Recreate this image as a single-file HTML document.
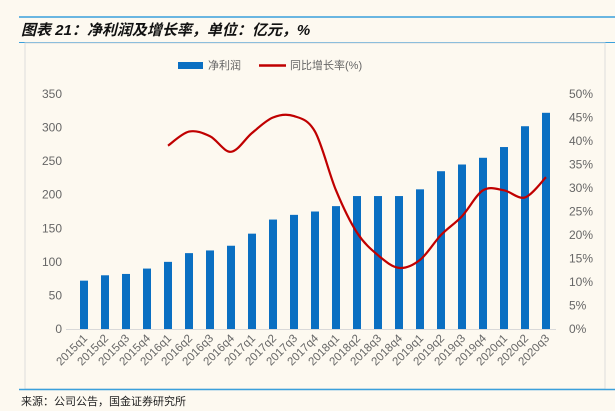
<!DOCTYPE html>
<html><head><meta charset="utf-8"><style>
body{margin:0;background:#fdf9f0;width:615px;height:411px;overflow:hidden;font-family:"Liberation Sans","Noto Sans CJK SC",sans-serif}
svg{display:block}
</style></head><body>
<svg width="615" height="411">
<line x1="19" y1="17" x2="615" y2="17" stroke="#3aa0dc" stroke-width="1.5"/>
<text x="21" y="35" font-size="15" font-weight="bold" font-style="italic" fill="#111">图表 21：净利润及增长率，单位：亿元，%</text>
<line x1="19" y1="42.5" x2="615" y2="42.5" stroke="#3aa0dc" stroke-width="1"/>
<rect x="25" y="43" width="580" height="346" fill="#fdf9f0" stroke="#ddd"/>
<line x1="19" y1="389.5" x2="615" y2="389.5" stroke="#3aa0dc" stroke-width="1.5"/>
<text x="21" y="405" font-size="11" fill="#222">来源：公司公告，国金证券研究所</text>
<g>
<rect x="178" y="62" width="25" height="7" fill="#0a6fc2"/>
<text x="208" y="69" font-size="11" fill="#666">净利润</text>
<line x1="259" y1="65.5" x2="286" y2="65.5" stroke="#c00000" stroke-width="2.5"/>
<text x="290" y="69" font-size="11" fill="#666">同比增长率(%)</text>
</g>
<g id="plot"></g>
</svg>
<script>
const categories=["2015q1","2015q2","2015q3","2015q4","2016q1","2016q2","2016q3","2016q4","2017q1","2017q2","2017q3","2017q4","2018q1","2018q2","2018q3","2018q4","2019q1","2019q2","2019q3","2019q4","2020q1","2020q2","2020q3"];
const profit=[72,80,82,90,100,113,117,124,142,163,170,175,183,198,198,198,208,235,245,255,271,302,322];
const growth=[null,null,null,null,39,42,41,37.7,41.7,45,45.3,42,29.5,20.5,15.7,13,14.7,20,24,29.5,29.5,28,32.3];
const leftTicks=[0,50,100,150,200,250,300,350];
const rightTicks=[0,5,10,15,20,25,30,35,40,45,50];
const NS="http://www.w3.org/2000/svg";
const g=document.getElementById('plot');
const y0=329,yTop=94;
const yL=v=>y0-(v/350)*(y0-yTop);
const yR=v=>y0-(v/50)*(y0-yTop);
const xC=i=>84+i*21;
function mk(t,a){const e=document.createElementNS(NS,t);for(const k in a)e.setAttribute(k,a[k]);g.appendChild(e);return e;}
leftTicks.forEach(v=>{const t=mk('text',{x:62,y:yL(v)+4,'text-anchor':'end','font-size':12,fill:'#666'});t.textContent=v;

});
rightTicks.forEach(v=>{const t=mk('text',{x:569,y:yR(v)+4,'font-size':12,fill:'#666'});t.textContent=v+'%';

});
profit.forEach((v,i)=>{const r=mk('rect',{x:xC(i)-4,y:yL(v),width:8,height:y0-yL(v),fill:'#0a6fc2'});

});
const ax=mk('line',{x1:66,y1:y0+0.5,x2:556,y2:y0+0.5,stroke:'#d9d9d9'});


categories.forEach((c,i)=>{const x=xC(i)+4,y=y0+10;const t=mk('text',{x:x,y:y,'text-anchor':'end','font-size':11.5,fill:'#666',transform:`rotate(-45 ${x} ${y})`});t.textContent=c;

});
const pts=[];growth.forEach((v,i)=>{if(v!=null)pts.push([xC(i),yR(v)]);});
let d=`M${pts[0][0]},${pts[0][1]}`;
for(let i=0;i<pts.length-1;i++){const p0=pts[i-1]||pts[i],p1=pts[i],p2=pts[i+1],p3=pts[i+2]||p2;
d+=` C${p1[0]+(p2[0]-p0[0])/6},${p1[1]+(p2[1]-p0[1])/6} ${p2[0]-(p3[0]-p1[0])/6},${p2[1]-(p3[1]-p1[1])/6} ${p2[0]},${p2[1]}`;}
const ln=mk('path',{d:d,fill:'none',stroke:'#c00000','stroke-width':2.2});


</script>
</body></html>
